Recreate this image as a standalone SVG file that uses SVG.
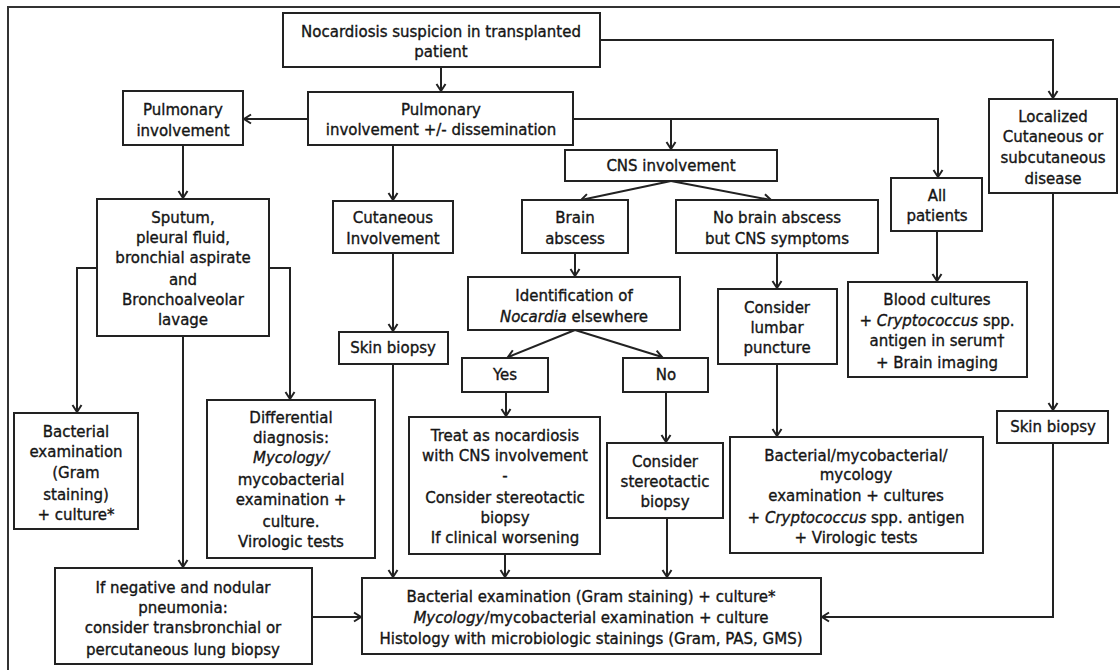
<svg xmlns="http://www.w3.org/2000/svg" width="1120" height="670" viewBox="0 0 1120 670">
<defs>
<marker id="arr" markerUnits="userSpaceOnUse" markerWidth="14" markerHeight="14" refX="0" refY="0" viewBox="-10 -7 12 14" orient="auto">
<path d="M-7,-4.5 L0,0 L-7,4.5" fill="none" stroke="#222" stroke-width="2"/>
</marker>
</defs>
<style>
.b{fill:#fff;stroke:#222;stroke-width:2}
.c{fill:none;stroke:#222;stroke-width:2;marker-end:url(#arr)}
text{font-family:"DejaVu Sans","Liberation Sans",sans-serif;font-size:15px;fill:#151515;stroke:#151515;stroke-width:0.35;text-anchor:middle}
.i{font-style:italic}
</style>
<rect width="1120" height="670" fill="#fff"/>
<path d="M8,670 L8,7 L1120,7" fill="none" stroke="#333" stroke-width="2"/>
<g id="connectors">
<path class="c" d="M441,67 L441,91"/>
<path class="c" d="M600,40 L1053,40 L1053,98"/>
<path class="c" d="M308,119 L244,119"/>
<path class="c" d="M573,119 L938,119 L938,177"/>
<path class="c" d="M671,119 L671,149"/>
<path class="c" d="M393,145 L393,200"/>
<path class="c" d="M671,181 L581,200"/>
<path class="c" d="M671,181 L771,200"/>
<path class="c" d="M183,145 L183,198"/>
<path class="c" d="M97,268 L77,268 L77,412"/>
<path class="c" d="M269,268 L290,268 L290,399"/>
<path class="c" d="M183,336 L183,567"/>
<path class="c" d="M312,617 L361,617"/>
<path class="c" d="M393,253 L393,331"/>
<path class="c" d="M393,364 L393,577"/>
<path class="c" d="M575,253 L575,276"/>
<path class="c" d="M575,330 L508,357"/>
<path class="c" d="M575,330 L662,357"/>
<path class="c" d="M506,392 L506,416"/>
<path class="c" d="M505,554 L505,577"/>
<path class="c" d="M666,392 L666,442"/>
<path class="c" d="M667,518 L667,577"/>
<path class="c" d="M777,253 L777,288"/>
<path class="c" d="M777,364 L777,436"/>
<path class="c" d="M937,231 L937,281"/>
<path class="c" d="M1053,193 L1053,410"/>
<path class="c" d="M1053,443 L1053,617 L822,617"/>
</g>
<g id="n_top"><rect class="b" x="283" y="13" width="317" height="54"/>
<text x="441" y="37">Nocardiosis suspicion in transplanted</text><text x="441" y="57">patient</text></g>
<g id="n_pulm"><rect class="b" x="123" y="91" width="120" height="54"/>
<text x="183" y="115">Pulmonary</text><text x="183" y="136">involvement</text></g>
<g id="n_pulmdis"><rect class="b" x="308" y="92" width="265" height="53"/>
<text x="441" y="115">Pulmonary</text><text x="441" y="135">involvement +/- dissemination</text></g>
<g id="n_cns"><rect class="b" x="565" y="150" width="212" height="31"/>
<text x="671" y="171">CNS involvement</text></g>
<g id="n_all"><rect class="b" x="891" y="178" width="91" height="53"/>
<text x="937" y="201">All</text><text x="937" y="221">patients</text></g>
<g id="n_local"><rect class="b" x="989" y="99" width="128" height="94"/>
<text x="1053" y="122">Localized</text><text x="1053" y="142">Cutaneous or</text><text x="1053" y="163">subcutaneous</text><text x="1053" y="184">disease</text></g>
<g id="n_sputum"><rect class="b" x="97" y="199" width="172" height="137"/>
<text x="183" y="223">Sputum,</text><text x="183" y="243">pleural fluid,</text><text x="183" y="263">bronchial aspirate</text><text x="183" y="285">and</text><text x="183" y="305">Bronchoalveolar</text><text x="183" y="325">lavage</text></g>
<g id="n_cut"><rect class="b" x="333" y="201" width="120" height="52"/>
<text x="393" y="223">Cutaneous</text><text x="393" y="244">Involvement</text></g>
<g id="n_brain"><rect class="b" x="522" y="200" width="106" height="53"/>
<text x="575" y="223">Brain</text><text x="575" y="244">abscess</text></g>
<g id="n_nobrain"><rect class="b" x="676" y="200" width="202" height="53"/>
<text x="777" y="223">No brain abscess</text><text x="777" y="244">but CNS symptoms</text></g>
<g id="n_ident"><rect class="b" x="468" y="277" width="212" height="53"/>
<text x="574" y="301">Identification of</text><text x="574" y="322"><tspan class="i">Nocardia</tspan> elsewhere</text></g>
<g id="n_lumbar"><rect class="b" x="718" y="289" width="119" height="75"/>
<text x="777" y="313">Consider</text><text x="777" y="333">lumbar</text><text x="777" y="353">puncture</text></g>
<g id="n_blood"><rect class="b" x="848" y="282" width="179" height="95"/>
<text x="937" y="305">Blood cultures</text><text x="937" y="326">+ <tspan class="i">Cryptococcus</tspan> spp.</text><text x="937" y="346">antigen in serum†</text><text x="937" y="368">+ Brain imaging</text></g>
<g id="n_skin1"><rect class="b" x="339" y="332" width="109" height="32"/>
<text x="393" y="353">Skin biopsy</text></g>
<g id="n_yes"><rect class="b" x="462" y="358" width="86" height="34"/>
<text x="505" y="380">Yes</text></g>
<g id="n_no"><rect class="b" x="623" y="358" width="85" height="34"/>
<text x="666" y="380">No</text></g>
<g id="n_skin2"><rect class="b" x="997" y="411" width="111" height="32"/>
<text x="1053" y="432">Skin biopsy</text></g>
<g id="n_bact"><rect class="b" x="14" y="413" width="124" height="116"/>
<text x="76" y="437">Bacterial</text><text x="76" y="457">examination</text><text x="76" y="478">(Gram</text><text x="76" y="500">staining)</text><text x="76" y="520">+ culture*</text></g>
<g id="n_diff"><rect class="b" x="207" y="400" width="168" height="158"/>
<text x="291" y="423">Differential</text><text x="291" y="443">diagnosis:</text><text x="291" y="463" class="i">Mycology/</text><text x="291" y="485">mycobacterial</text><text x="291" y="505">examination +</text><text x="291" y="527">culture.</text><text x="291" y="547">Virologic tests</text></g>
<g id="n_treat"><rect class="b" x="409" y="417" width="191" height="137"/>
<text x="505" y="441">Treat as nocardiosis</text><text x="505" y="461">with CNS involvement</text><text x="505" y="481">-</text><text x="505" y="503">Consider stereotactic</text><text x="505" y="523">biopsy</text><text x="505" y="543">If clinical worsening</text></g>
<g id="n_stereo"><rect class="b" x="607" y="443" width="116" height="75"/>
<text x="665" y="467">Consider</text><text x="665" y="487">stereotactic</text><text x="665" y="507">biopsy</text></g>
<g id="n_bactmyco"><rect class="b" x="730" y="437" width="253" height="116"/>
<text x="856" y="461">Bacterial/mycobacterial/</text><text x="856" y="480">mycology</text><text x="856" y="501">examination + cultures</text><text x="856" y="523">+ <tspan class="i">Cryptococcus</tspan> spp. antigen</text><text x="856" y="543">+ Virologic tests</text></g>
<g id="n_neg"><rect class="b" x="55" y="568" width="257" height="96"/>
<text x="183" y="593">If negative and nodular</text><text x="183" y="613">pneumonia:</text><text x="183" y="633">consider transbronchial or</text><text x="183" y="655">percutaneous lung biopsy</text></g>
<g id="n_final"><rect class="b" x="362" y="578" width="459" height="76"/>
<text x="591" y="602">Bacterial examination (Gram staining) + culture*</text><text x="591" y="623"><tspan class="i">Mycology</tspan>/mycobacterial examination + culture</text><text x="591" y="644">Histology with microbiologic stainings (Gram, PAS, GMS)</text></g>
</svg>
